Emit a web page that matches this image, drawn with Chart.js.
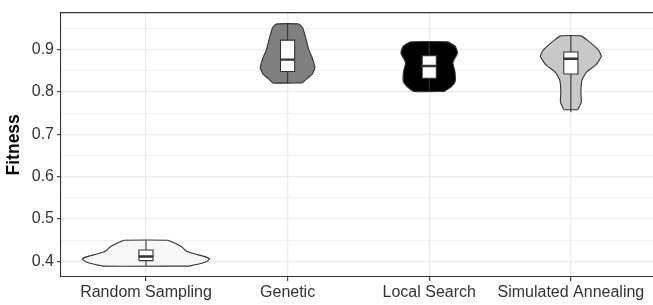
<!DOCTYPE html>
<html>
<head>
<meta charset="utf-8">
<script src="https://cdn.jsdelivr.net/npm/chart.js@4.4.1/dist/chart.umd.min.js"></script>
<style>
  html, body { margin: 0; padding: 0; background: #fff; }
  #wrap { width: 653px; height: 305px; }
</style>
</head>
<body>
<div id="wrap"><canvas id="violinChart" width="653" height="305"></canvas></div>
<script>
// categories on the x axis
const categories = ["Random Sampling", "Genetic", "Local Search", "Simulated Annealing"];

// violin outlines: fitness levels and half width (density, in category units)
const rsLevels = [0.389, 0.395, 0.400, 0.406, 0.412, 0.418, 0.423, 0.427, 0.432, 0.437, 0.442, 0.447, 0.450];
const rsWidth  = [0.303, 0.388, 0.430, 0.450, 0.409, 0.339, 0.296, 0.275, 0.261, 0.240, 0.212, 0.176, 0.155];

const gaLevels = [0.821, 0.830, 0.842, 0.857, 0.880, 0.899, 0.922, 0.950, 0.960];
const gaWidth  = [0.104, 0.132, 0.174, 0.193, 0.174, 0.150, 0.132, 0.108, 0.080];

const lsLevels = [0.801, 0.812, 0.824, 0.847, 0.869, 0.892, 0.908, 0.918];
const lsWidth  = [0.106, 0.155, 0.183, 0.182, 0.167, 0.200, 0.183, 0.129];

const saLevels = [0.758, 0.765, 0.777, 0.800, 0.827, 0.846, 0.865, 0.884, 0.899, 0.922, 0.932];
const saWidth  = [0.049, 0.060, 0.074, 0.071, 0.078, 0.109, 0.180, 0.215, 0.194, 0.116, 0.071];

// boxplot stats per category
const whiskerLow  = [0.390, 0.821, 0.801, 0.752];
const q1          = [0.402, 0.848, 0.832, 0.842];
const medians     = [0.4115, 0.876, 0.861, 0.878];
const q3          = [0.427, 0.922, 0.8855, 0.894];
const whiskerHigh = [0.450, 0.960, 0.918, 0.932];

const violinFill = ["#F7F7F7", "#7F7F7F", "#000000", "#C8C8C8"];

const yTicks = [0.40, 0.45, 0.50, 0.55, 0.60, 0.65, 0.70, 0.75, 0.80, 0.85, 0.90, 0.95];

// ---------- build datasets ----------
const levelsList = [rsLevels, gaLevels, lsLevels, saLevels];
const widthList = [rsWidth, gaWidth, lsWidth, saWidth];
const boxHalf = 0.05;
const datasets = [];

categories.forEach((name, i) => {
    const c = i + 1;
    const lv = levelsList[i];
    const w = widthList[i];

    // violin: up the right side, down the left side
    const pts = [];
    for (let k = 0; k < lv.length; k++) pts.push({ x: c + w[k], y: lv[k] });
    for (let k = lv.length - 1; k >= 0; k--) pts.push({ x: c - w[k], y: lv[k] });
    pts.push(pts[0]);

    datasets.push({
        label: name + " violin",
        data: pts,
        showLine: true,
        fill: "shape",
        backgroundColor: violinFill[i],
        borderColor: "#333333",
        borderWidth: 1.1,
        pointRadius: 0,
        tension: 0.15,
        order: 4
    });

    // whisker
    datasets.push({
        label: name + " whisker",
        data: [{ x: c, y: whiskerLow[i] }, { x: c, y: whiskerHigh[i] }],
        showLine: true,
        borderColor: "#333333",
        borderWidth: 1.1,
        pointRadius: 0,
        order: 3
    });

    // box
    datasets.push({
        label: name + " box",
        data: [
            { x: c - boxHalf, y: q1[i] }, { x: c + boxHalf, y: q1[i] },
            { x: c + boxHalf, y: q3[i] }, { x: c - boxHalf, y: q3[i] },
            { x: c - boxHalf, y: q1[i] }
        ],
        showLine: true,
        fill: "shape",
        backgroundColor: "#FFFFFF",
        borderColor: "#333333",
        borderWidth: 1.1,
        pointRadius: 0,
        order: 2
    });

    // median
    datasets.push({
        label: name + " median",
        data: [{ x: c - boxHalf, y: medians[i] }, { x: c + boxHalf, y: medians[i] }],
        showLine: true,
        borderColor: "#333333",
        borderWidth: 2.4,
        pointRadius: 0,
        order: 1
    });
});

// top border of the panel
const panelBorder = {
    id: "panelBorder",
    afterDatasetsDraw(chart) {
        const { ctx, chartArea } = chart;
        ctx.save();
        ctx.strokeStyle = "#333333";
        ctx.lineWidth = 1.1;
        ctx.beginPath();
        ctx.moveTo(chartArea.left, chartArea.top);
        ctx.lineTo(chartArea.right, chartArea.top);
        ctx.stroke();
        ctx.restore();
    }
};

const ctx = document.getElementById("violinChart").getContext("2d");

new Chart(ctx, {
    type: "scatter",
    data: { datasets: datasets },
    options: {
        responsive: false,
        animation: false,
        layout: { padding: { top: 5, right: 0, left: 0, bottom: 0 } },
        plugins: {
            legend: { display: false },
            tooltip: { enabled: false }
        },
        scales: {
            x: {
                type: "linear",
                min: 0.4,
                max: 4.58,
                afterBuildTicks: scale => {
                    scale.ticks = categories.map((n, i) => ({ value: i + 1 }));
                },
                afterFit: scale => { scale.height = 28; },
                ticks: {
                    autoSkip: false,
                    maxRotation: 0,
                    padding: 2,
                    color: "#333333",
                    font: { family: "Liberation Sans, Arial, sans-serif", size: 16 },
                    callback: v => categories[Math.round(v) - 1]
                },
                grid: {
                    color: "#EBEBEB",
                    lineWidth: 1.3,
                    tickLength: 4,
                    tickColor: "#333333",
                    tickWidth: 1.1
                },
                border: { display: true, color: "#333333", width: 1.1 }
            },
            y: {
                min: 0.3633,
                max: 0.987,
                afterBuildTicks: scale => {
                    scale.ticks = yTicks.map(v => ({ value: v }));
                },
                afterFit: scale => { scale.width = 61; },
                title: {
                    display: true,
                    text: "Fitness",
                    color: "#000000",
                    padding: { top: 4, bottom: 0 },
                    font: { family: "Liberation Sans, Arial, sans-serif", size: 17.5, weight: "bold" }
                },
                ticks: {
                    padding: 3,
                    color: "#333333",
                    font: { family: "Liberation Sans, Arial, sans-serif", size: 16 },
                    callback: (v, i) => (i % 2 === 0 ? v.toFixed(1) : "")
                },
                grid: {
                    color: "#EBEBEB",
                    lineWidth: c => (c.index % 2 === 0 ? 1.3 : 0.7),
                    tickLength: 4,
                    tickColor: c => (c.index % 2 === 0 ? "#333333" : "rgba(0,0,0,0)"),
                    tickWidth: 1.1
                },
                border: { display: true, color: "#333333", width: 1.1 }
            }
        }
    },
    plugins: [panelBorder]
});
</script>
</body>
</html>
